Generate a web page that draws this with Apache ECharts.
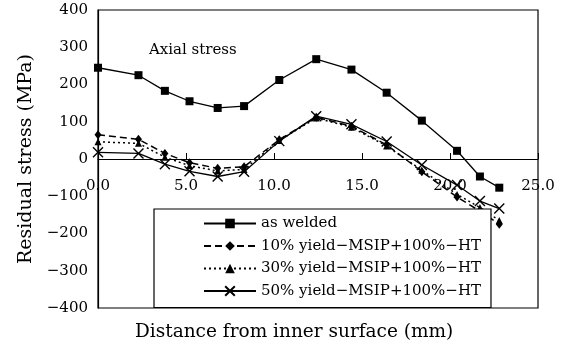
<!DOCTYPE html>
<html>
<head>
<meta charset="utf-8">
<script src="https://cdn.jsdelivr.net/npm/echarts@6/dist/echarts.min.js"></script>
<style>
  html, body { margin: 0; padding: 0; background: #fff; }
  #chart { width: 566px; height: 349px; }
</style>
</head>
<body>
<div id="chart"></div>
<script>
// distance from inner surface (mm), shared by every curve
var distance = [0, 2.3, 3.8, 5.2, 6.8, 8.3, 10.3, 12.4, 14.4, 16.4, 18.4, 20.4, 21.7, 22.8];

// residual stress (MPa)
var asWelded = [245, 225, 183, 155, 137, 142, 212, 268, 240, 178, 103, 22, -47, -77];
var msip10 = [65, 53, 15, -10, -25, -21, 52, 112, 88, 38, -34, -102, -140, -175];
var msip30 = [46, 42, 5, -18, -32, -28, 50, 110, 85, 35, -30, -95, -130, -165];
var msip50 = [18, 15, -14, -33, -47, -34, 48, 115, 93, 47, -16, -70, -113, -133];

var seriesNames = [
  "as welded",
  "10% yield\u2212MSIP+100%\u2212HT",
  "30% yield\u2212MSIP+100%\u2212HT",
  "50% yield\u2212MSIP+100%\u2212HT"
];

var FONT = "DejaVu Serif";

function pairs(ys) {
  return distance.map(function (x, i) { return [x, ys[i]]; });
}

var crossIcon = "path://M0,0L10,10M10,0L0,10";

var myChart = echarts.init(document.getElementById("chart"));

var option = {
  animation: false,
  backgroundColor: "#fff",
  title: [
    {
      text: "Axial stress",
      left: 144,
      top: 38,
      textStyle: { fontFamily: FONT, fontSize: 15, fontWeight: "normal", color: "#000" }
    },
    {
      text: "Distance from inner surface (mm)",
      left: 130,
      top: 318,
      textStyle: { fontFamily: FONT, fontSize: 18.5, fontWeight: "normal", color: "#000" }
    }
  ],
  grid: {
    left: 98,
    right: 28,
    top: 10,
    bottom: 41,
    show: true,
    borderColor: "#000",
    borderWidth: 1.2,
    backgroundColor: "#fff"
  },
  legend: {
    orient: "vertical",
    left: 154,
    top: 209,
    data: seriesNames,
    itemWidth: 52,
    itemHeight: 12,
    itemGap: 7.5,
    padding: [7, 10, 9, 49],
    backgroundColor: "#fff",
    borderColor: "#000",
    borderWidth: 1.2,
    borderRadius: 0,
    textStyle: { fontFamily: FONT, fontSize: 15, color: "#000" }
  },
  xAxis: {
    type: "value",
    min: 0,
    max: 25,
    interval: 5,
    // axis sits on the zero line: lift it from the bottom border
    offset: -149,
    axisLine: { onZero: false, lineStyle: { color: "#000", width: 1.2 } },
    axisTick: { show: true, inside: true, length: 6, lineStyle: { color: "#000" } },
    splitLine: { show: false },
    axisLabel: {
      margin: 20,
      color: "#000",
      fontFamily: FONT,
      fontSize: 15,
      formatter: function (v) { return v.toFixed(1); }
    }
  },
  yAxis: {
    type: "value",
    min: -400,
    max: 400,
    interval: 100,
    name: "Residual stress (MPa)",
    nameLocation: "middle",
    nameGap: 62,
    nameTextStyle: { fontFamily: FONT, fontSize: 19, color: "#000" },
    axisLine: { show: true, lineStyle: { color: "#000", width: 1.2 } },
    axisTick: { show: false },
    splitLine: { show: false },
    axisLabel: {
      margin: 10,
      color: "#000",
      fontFamily: FONT,
      fontSize: 15,
      formatter: function (v) { return String(v).replace("-", "\u2212"); }
    }
  },
  series: [
    {
      name: seriesNames[0],
      type: "line",
      data: pairs(asWelded),
      symbol: "rect",
      symbolSize: 8,
      lineStyle: { color: "#000", width: 1.3, type: "solid" },
      itemStyle: { color: "#000" }
    },
    {
      name: seriesNames[1],
      type: "line",
      data: pairs(msip10),
      symbol: "diamond",
      symbolSize: [7, 9],
      lineStyle: { color: "#000", width: 1.5, type: [7, 4] },
      itemStyle: { color: "#000" }
    },
    {
      name: seriesNames[2],
      type: "line",
      data: pairs(msip30),
      symbol: "triangle",
      symbolSize: 7,
      lineStyle: { color: "#000", width: 1.5, type: [2, 3] },
      itemStyle: { color: "#000" }
    },
    {
      name: seriesNames[3],
      type: "line",
      data: pairs(msip50),
      symbol: crossIcon,
      symbolSize: 10,
      lineStyle: { color: "#000", width: 1.3, type: "solid" },
      itemStyle: { color: "none", borderColor: "#000", borderWidth: 1.4 }
    }
  ]
};

myChart.setOption(option);
</script>
</body>
</html>
